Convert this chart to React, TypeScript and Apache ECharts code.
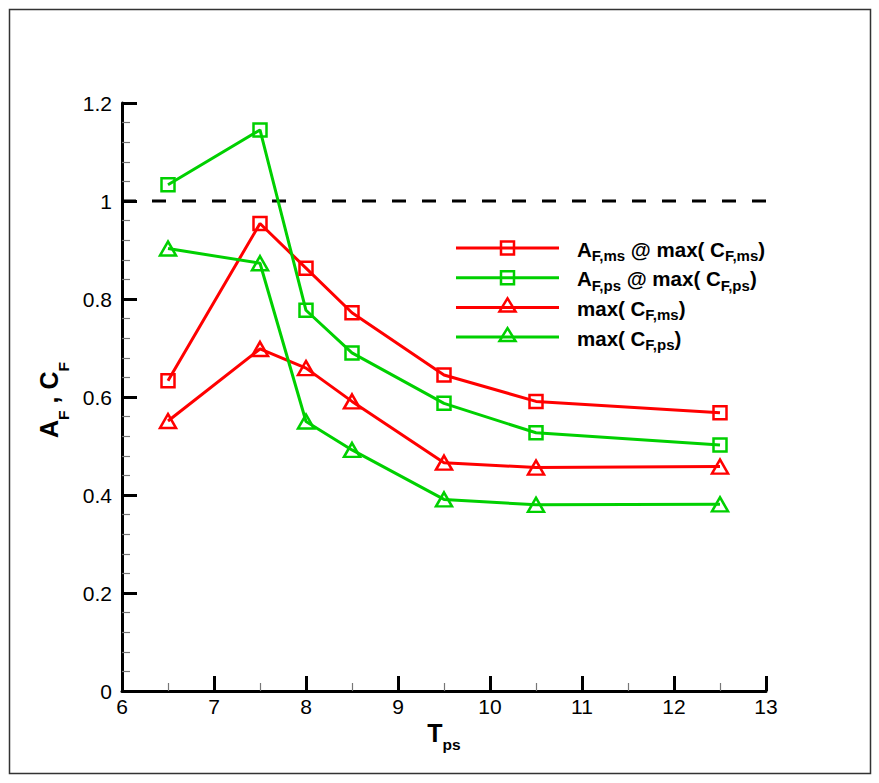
import { useEffect, useRef } from 'react';
import * as echarts from 'echarts';

// Wave period values (x axis)
const tps = [6.5, 7.5, 8, 8.5, 9.5, 10.5, 12.5];

// A_F at max(C_F) and max(C_F) for the ms / ps configurations
const afMs = [0.633, 0.954, 0.863, 0.772, 0.645, 0.591, 0.568];
const afPs = [1.033, 1.145, 0.777, 0.69, 0.587, 0.527, 0.502];
const cfMs = [0.551, 0.698, 0.659, 0.591, 0.466, 0.456, 0.458];
const cfPs = [0.903, 0.873, 0.55, 0.492, 0.391, 0.38, 0.381];

// Reference level drawn as a dashed line
const refLevel = 1;

// Axis ranges
const xRange = [6, 13];
const yRange = [0, 1.2];

const seriesNames = ['AF ms', 'AF ps', 'CF ms', 'CF ps'];
const legendLabels = [
  '{b|A}{s|F,ms}{b| @ max( C}{s|F,ms}{b|)}',
  '{b|A}{s|F,ps}{b| @ max( C}{s|F,ps}{b|)}',
  '{b|max( C}{s|F,ms}{b|)}',
  '{b|max( C}{s|F,ps}{b|)}',
];

const RED = '#ff0000';
const GREEN = '#00d000';
const FONT = '"Liberation Sans", Arial, Helvetica, sans-serif';

const legendColors = [RED, GREEN, RED, GREEN];
const legendSymbols = ['rect', 'rect', 'triangle', 'triangle'];

const pairs = (ys: number[]) => tps.map((x, i) => [x, ys[i]]);

function legendGraphics() {
  const x0 = 456;
  const x1 = 559;
  const xc = (x0 + x1) / 2;
  const top = 248;
  const step = 29.7;
  const items: any[] = [];
  legendLabels.forEach((label, i) => {
    const y = top + i * step;
    const color = legendColors[i];
    items.push({
      type: 'line',
      shape: { x1: x0, y1: y, x2: x1, y2: y },
      style: { stroke: color, lineWidth: 3 },
      silent: true,
    });
    if (legendSymbols[i] === 'rect') {
      items.push({
        type: 'rect',
        shape: { x: xc - 6.5, y: y - 6.5, width: 13, height: 13 },
        style: { fill: 'none', stroke: color, lineWidth: 2.5 },
        silent: true,
      });
    } else {
      items.push({
        type: 'polygon',
        shape: { points: [[xc, y - 9], [xc - 8, y + 4], [xc + 8, y + 4]] },
        style: { fill: 'none', stroke: color, lineWidth: 2.5 },
        silent: true,
      });
    }
    items.push({
      type: 'text',
      x: 577,
      y: y + 1,
      silent: true,
      style: {
        text: label,
        align: 'left',
        verticalAlign: 'middle',
        rich: {
          b: { fontFamily: FONT, fontSize: 20.5, fontWeight: 'bold', fill: '#000', lineHeight: 28 },
          s: { fontFamily: FONT, fontSize: 15, fontWeight: 'bold', fill: '#000', lineHeight: 14, verticalAlign: 'bottom' },
        },
      },
    });
  });
  return items;
}

export default function App() {
  const ref = useRef<HTMLDivElement>(null);

  useEffect(() => {
    document.body.style.margin = '0';
    if (!ref.current) return;
    const chart = echarts.init(ref.current, null, { renderer: 'svg' });

    const mkSeries = (name: string, ys: number[], color: string, symbol: string, size: number | number[]) => ({
      name,
      type: 'line',
      data: pairs(ys),
      symbol,
      symbolSize: size,
      showAllSymbol: true,
      lineStyle: { color, width: 3 },
      itemStyle: { color: 'rgba(0,0,0,0)', borderColor: color, borderWidth: 2.5 },
      emphasis: { disabled: true },
      z: 3,
    });

    const titleMain = { fontFamily: FONT, fontSize: 25, fontWeight: 'bold', color: '#000' };
    const titleSub = { fontFamily: FONT, fontSize: 15.5, fontWeight: 'bold', color: '#000', lineHeight: 14, verticalAlign: 'bottom' };

    chart.setOption({
      animation: false,
      backgroundColor: '#ffffff',
      grid: { left: 122, top: 103, right: 113, bottom: 92, containLabel: false },
      xAxis: {
        type: 'value',
        min: xRange[0],
        max: xRange[1],
        interval: 1,
        name: '{m|T}{s|ps}',
        nameLocation: 'middle',
        nameGap: 23,
        nameMoveOverlap: false,
        nameTextStyle: {
          rich: {
            m: { ...titleMain, lineHeight: 38 },
            s: titleSub,
          },
        },
        axisLine: { show: true, onZero: false, lineStyle: { color: '#000', width: 3 } },
        axisTick: { show: true, inside: true, length: 15, lineStyle: { color: '#000', width: 3 } },
        minorTick: { show: true, splitNumber: 2, length: 8, lineStyle: { color: '#777', width: 1.2 } },
        axisLabel: { fontFamily: FONT, fontSize: 21, color: '#000', margin: 5 },
        splitLine: { show: false },
      },
      yAxis: {
        type: 'value',
        min: yRange[0],
        max: yRange[1],
        interval: 0.2,
        name: '{m|A}{s|F}{m| , C}{e|F}',
        nameLocation: 'middle',
        nameRotate: 90,
        nameGap: 51,
        nameMoveOverlap: false,
        nameTextStyle: {
          rich: {
            m: { ...titleMain, lineHeight: 44 },
            s: titleSub,
            e: { ...titleSub, padding: [0, 6, 0, 0] },
          },
        },
        axisLine: { show: true, onZero: false, lineStyle: { color: '#000', width: 3 } },
        axisTick: { show: true, inside: true, length: 15, lineStyle: { color: '#000', width: 3 } },
        minorTick: { show: true, splitNumber: 5, length: 8, lineStyle: { color: '#777', width: 1.2 } },
        axisLabel: { fontFamily: FONT, fontSize: 21, color: '#000', margin: 10 },
        splitLine: { show: false },
      },
      graphic: [
        {
          type: 'rect',
          shape: { x: 9.5, y: 9.5, width: 861, height: 764 },
          style: { fill: 'none', stroke: '#333', lineWidth: 1.5 },
          silent: true,
          z: -1,
        },
        ...legendGraphics(),
      ],
      series: [
        {
          name: 'ref',
          type: 'line',
          data: [
            [xRange[0], refLevel],
            [xRange[1], refLevel],
          ],
          symbol: 'none',
          lineStyle: { color: '#000', width: 3, type: [14, 16] },
          emphasis: { disabled: true },
          silent: true,
          z: 2,
        },
        mkSeries(seriesNames[0], afMs, RED, 'rect', 13),
        mkSeries(seriesNames[1], afPs, GREEN, 'rect', 13),
        mkSeries(seriesNames[2], cfMs, RED, 'triangle', [16, 14]),
        mkSeries(seriesNames[3], cfPs, GREEN, 'triangle', [16, 14]),
      ],
    });

    return () => chart.dispose();
  }, []);

  return <div ref={ref} style={{ width: 879, height: 783 }} />;
}
